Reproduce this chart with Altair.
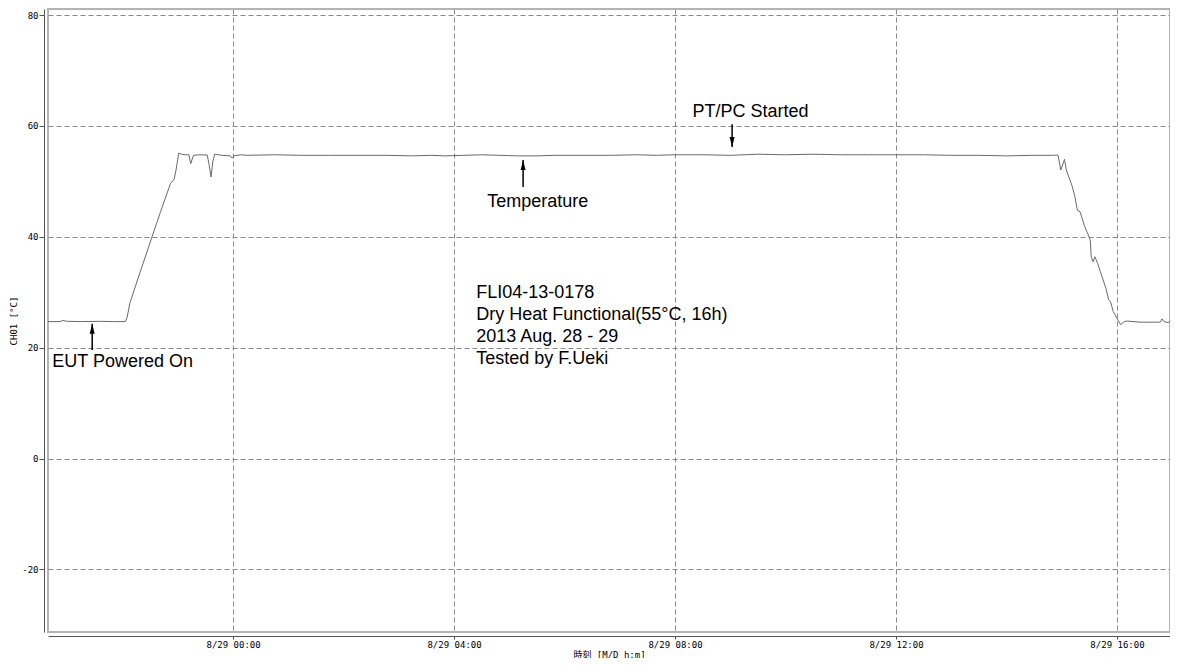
import altair as alt
import pandas as pd

# ---- main temperature series ----
time = [
    "2013-08-28T20:39", "2013-08-28T20:52", "2013-08-28T20:55", "2013-08-28T21:00",
    "2013-08-28T21:14", "2013-08-28T21:36", "2013-08-28T21:50", "2013-08-28T22:03",
    "2013-08-28T22:05", "2013-08-28T22:08", "2013-08-28T22:19", "2013-08-28T22:32",
    "2013-08-28T22:41", "2013-08-28T22:52", "2013-08-28T22:56", "2013-08-28T22:58",
    "2013-08-28T23:01", "2013-08-28T23:04", "2013-08-28T23:08", "2013-08-28T23:12",
    "2013-08-28T23:14", "2013-08-28T23:17", "2013-08-28T23:24", "2013-08-28T23:32",
    "2013-08-28T23:34", "2013-08-28T23:36", "2013-08-28T23:38", "2013-08-28T23:40",
    "2013-08-28T23:48", "2013-08-28T23:57", "2013-08-28T23:59", "2013-08-29T00:01",
    "2013-08-29T00:08", "2013-08-29T00:15", "2013-08-29T00:45", "2013-08-29T01:15",
    "2013-08-29T01:45", "2013-08-29T02:15", "2013-08-29T02:45", "2013-08-29T03:15",
    "2013-08-29T03:35", "2013-08-29T03:50", "2013-08-29T04:10", "2013-08-29T04:30",
    "2013-08-29T04:50", "2013-08-29T05:10", "2013-08-29T05:30", "2013-08-29T05:50",
    "2013-08-29T06:20", "2013-08-29T06:50", "2013-08-29T07:20", "2013-08-29T07:40",
    "2013-08-29T08:00", "2013-08-29T08:30", "2013-08-29T09:00", "2013-08-29T09:30",
    "2013-08-29T10:00", "2013-08-29T10:30", "2013-08-29T11:00", "2013-08-29T11:30",
    "2013-08-29T12:00", "2013-08-29T12:30", "2013-08-29T13:00", "2013-08-29T13:30",
    "2013-08-29T14:00", "2013-08-29T14:30", "2013-08-29T14:50", "2013-08-29T14:56",
    "2013-08-29T14:59", "2013-08-29T15:03", "2013-08-29T15:05", "2013-08-29T15:11",
    "2013-08-29T15:14", "2013-08-29T15:17", "2013-08-29T15:20", "2013-08-29T15:25",
    "2013-08-29T15:29", "2013-08-29T15:31", "2013-08-29T15:32", "2013-08-29T15:34",
    "2013-08-29T15:36", "2013-08-29T15:39", "2013-08-29T15:42", "2013-08-29T15:45",
    "2013-08-29T15:48", "2013-08-29T15:51", "2013-08-29T15:53", "2013-08-29T15:56",
    "2013-08-29T16:00", "2013-08-29T16:04", "2013-08-29T16:08", "2013-08-29T16:11",
    "2013-08-29T16:25", "2013-08-29T16:43", "2013-08-29T16:47", "2013-08-29T16:49",
    "2013-08-29T16:51", "2013-08-29T16:56", "2013-08-29T17:01", "2013-08-29T17:05",
]
temp = [
    24.7, 24.7, 24.9, 24.75,
    24.7, 24.75, 24.7, 24.7,
    25.5, 28.1, 33.6, 40.0,
    44.4, 49.6, 50.4, 52.0,
    55.1, 54.9, 54.8, 54.8,
    53.2, 54.7, 54.8, 54.75,
    53.0, 50.8, 53.5, 54.9,
    54.7, 54.6, 54.2, 54.6,
    54.8, 54.7, 54.8, 54.7,
    54.7, 54.7, 54.7, 54.6,
    54.7, 54.6, 54.7, 54.8,
    54.7, 54.6, 54.6, 54.7,
    54.7, 54.7, 54.8, 54.7,
    54.8, 54.8, 54.7, 54.9,
    54.8, 54.9, 54.8, 54.8,
    54.8, 54.8, 54.7, 54.7,
    54.6, 54.7, 54.7, 54.75,
    52.05, 53.97, 52.05, 49.3,
    47.5, 44.8, 44.5, 41.8,
    40.3, 39.4, 36.4, 35.5,
    36.4, 35.2, 33.7, 32.2,
    30.7, 28.6, 28.3, 26.5,
    25.3, 24.15, 24.7, 24.8,
    24.6, 24.6, 24.6, 25.2,
    24.7, 24.5, 25.6, 24.7,
]

# ---- annotations ----
ann_text = ["EUT Powered On", "Temperature", "PT/PC Started"]
ann_time = ["2013-08-28T22:00", "2013-08-29T05:31", "2013-08-29T09:22"]
ann_value = [17.4, 46.3, 62.5]

arrow_time = ["2013-08-28T21:27", "2013-08-29T05:15", "2013-08-29T09:02"]
arrow_tip = [24.3, 53.85, 56.2]
arrow_tail = [19.6, 49.0, 60.3]
arrow_dir = ["up", "up", "down"]

info_lines = ["FLI04-13-0178", "Dry Heat Functional(55°C, 16h)",
              "2013 Aug. 28 - 29", "Tested by F.Ueki"]
info_time = ["2013-08-29T04:24"] * 4
info_value = [29.9, 25.9, 22.0, 18.0]

# ---- axes ----
y_ticks = [-20, 0, 20, 40, 60, 80]
x_tick_hours = [0, 4, 8, 12, 16]
x_title = "時刻 [M/D h:m]"
y_title = "CH01 [°C]"

MONO = "'DejaVu Sans Mono', 'Noto Sans CJK JP', monospace"
SANS = "'Liberation Sans', Arial, sans-serif"

x_scale = alt.Scale(
    domain=[alt.DateTime(year=2013, month=8, date=28, hours=20, minutes=39),
            alt.DateTime(year=2013, month=8, date=29, hours=16, minutes=57, seconds=36)],
    nice=False)
y_scale = alt.Scale(domain=[-31.3, 81.1], nice=False, zero=False)

x_axis = alt.Axis(
    values=[alt.DateTime(year=2013, month=8, date=29, hours=h) for h in x_tick_hours],
    format="%-m/%d %H:%M", title=x_title, offset=4, tickSize=3, labelPadding=1,
    titleY=21, titleBaseline="alphabetic", grid=True)
y_axis = alt.Axis(values=y_ticks, labelExpr="toString(datum.value)", title=y_title,
                  offset=4, tickSize=5, labelPadding=1, titlePadding=3, grid=True)

line_df = pd.DataFrame({"time": time, "temp": temp})
arrow_df = pd.DataFrame({"time": arrow_time, "tip": arrow_tip, "tail": arrow_tail,
                         "dir": arrow_dir})
ann_df = pd.DataFrame({"time": ann_time, "temp": ann_value, "label": ann_text})
info_df = pd.DataFrame({"time": info_time, "temp": info_value, "label": info_lines})

X = alt.X("time:T", scale=x_scale, axis=x_axis)

line = alt.Chart(line_df).mark_line(color="#6a6a6a", strokeWidth=1, clip=True).encode(
    x=X,
    y=alt.Y("temp:Q", scale=y_scale, axis=y_axis),
)

shafts = alt.Chart(arrow_df).mark_rule(color="black", strokeWidth=1.5).encode(
    x=X,
    y=alt.Y("tip:Q", scale=y_scale, axis=y_axis),
    y2="tail:Q",
)

heads = alt.Chart(arrow_df).mark_point(filled=True, color="black", opacity=1, size=100,
                                       strokeWidth=0).encode(
    x=X,
    y=alt.Y("tip:Q", scale=y_scale, axis=y_axis),
    shape=alt.Shape("dir:N", legend=None,
                    scale=alt.Scale(domain=["up", "down"],
                                    range=["M0,0L0.5,2L-0.5,2Z", "M0,0L0.5,-2L-0.5,-2Z"])),
)

ann = alt.Chart(ann_df).mark_text(font=SANS, fontSize=18, color="black",
                                  align="center", baseline="middle").encode(
    x=X,
    y=alt.Y("temp:Q", scale=y_scale, axis=y_axis),
    text="label:N",
)

info = alt.Chart(info_df).mark_text(font=SANS, fontSize=18, color="black",
                                    align="left", baseline="middle").encode(
    x=X,
    y=alt.Y("temp:Q", scale=y_scale, axis=y_axis),
    text="label:N",
)

chart = alt.layer(line, shafts, heads, ann, info).properties(
    width=1122, height=623,
    padding={"left": 40, "top": 1, "right": 0, "bottom": 26},
    autosize=alt.AutoSizeParams(type="none"),
).configure_view(
    stroke="#b4b4b4", strokeWidth=2,
).configure_axis(
    gridColor="#8a8a8a", gridDash=[5, 3], gridWidth=1,
    domainColor="#555555", tickColor="#555555",
    labelFont=MONO, labelFontSize=9, labelColor="black",
    titleFont=MONO, titleFontSize=9, titleFontWeight="normal", titleColor="black",
)

chart.save("out.html", embed_options={"renderer": "svg", "actions": False})
